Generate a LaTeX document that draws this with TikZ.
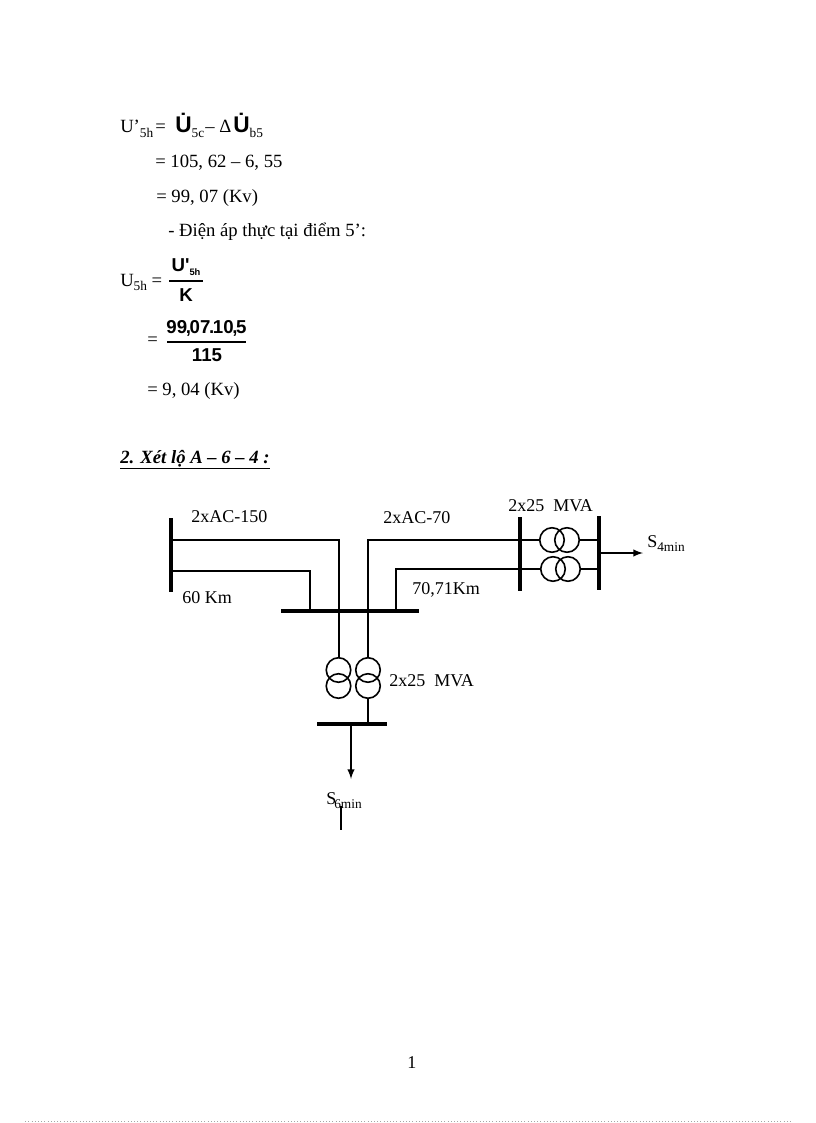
\documentclass[tikz,border=0pt]{standalone}
\usepackage{fontspec}
\setmainfont{Liberation Serif}
\setsansfont{Liberation Sans}
\newcommand{\lowsub}[1]{\raisebox{-3.4pt}{\normalfont\fontsize{10}{10}\selectfont #1}}
\tikzset{
  txt/.style={anchor=base west,inner sep=0pt,font=\fontsize{14}{16}\selectfont},
  lbl/.style={anchor=base west,inner sep=0pt,font=\fontsize{13.5}{15}\selectfont},
  eqn/.style={anchor=center,inner sep=0pt,font=\sffamily\bfseries\fontsize{14}{16}\selectfont},
  bigu/.style={anchor=base west,inner sep=0pt,font=\sffamily\bfseries\fontsize{17}{17}\selectfont},
  pt/.style={inner sep=0pt,minimum size=0pt},
  bus/.style={line width=3.2pt},
  wire/.style={line width=1.5pt},
  coil/.style={draw,circle,line width=1.2pt,minimum size=24.5*0.75pt,inner sep=0pt}
}
\begin{document}
\begin{tikzpicture}[x=0.75pt,y=-0.75pt,>=latex]
  \useasboundingbox (0,0) rectangle (816,1123);

  \node[txt] at (120,133) (ua) {U’\lowsub{5h}};
  \node[txt] at (155,133) (eqa) {=};
  \node[bigu] at (175,133) (ub) {\.U\lowsub{5c}};
  \node[txt] at (205,133) (mns) {– Δ};
  \node[bigu] at (233,133) (uc) {\.U\lowsub{b5}};

  \node[txt] at (155,168) (lb) {= 105, 62 – 6, 55};
  \node[txt] at (156,203) (lc) {= 99, 07 (Kv)};
  \node[txt] at (168,237) (ld) {- Điện áp thực tại điểm 5’:};

  \node[txt] at (120,286) (ue) {U\lowsub{5h} =};
  \node[eqn] at (186,267) (fa) {U\textquotesingle\raisebox{-0.2em}{\fontsize{7}{7}\selectfont 5h}};
  \node[eqn] at (186,295) (fb) {K};
  \draw[line width=0.9pt] (169,281) -- (203,281);

  \node[txt] at (147,345) (eqb) {=};
  \node[eqn] at (206.5,328) (fc) {99\kern-1pt,\kern-1pt07\kern-1pt.\kern-1pt10\kern-1pt,\kern-1pt5};
  \node[eqn] at (207,355) (fd) {115};
  \draw[line width=0.9pt] (167,342) -- (246,342);
  \node[txt] at (147,395) (le) {= 9, 04 (Kv)};

  \node[txt,font=\bfseries\itshape\fontsize{14}{16}\selectfont] at (120,463) (head) {\underline{2. Xét lộ A – 6 – 4 :}};

  % busbars
  \node[pt] at (171,518) (busat) {};
  \node[pt] at (171,592) (busab) {};
  \node[pt] at (281,611) (busbl) {};
  \node[pt] at (419,611) (busbr) {};
  \node[pt] at (520,517) (busct) {};
  \node[pt] at (520,591) (buscb) {};
  \node[pt] at (599,516) (busdt) {};
  \node[pt] at (599,590) (busdb) {};
  \node[pt] at (317,724) (busel) {};
  \node[pt] at (387,724) (buser) {};
  \draw[bus] (busat) -- (busab);
  \draw[bus] (busbl) -- (busbr);
  \draw[bus] (busct) -- (buscb);
  \draw[bus] (busdt) -- (busdb);
  \draw[bus] (busel) -- (buser);

  % transformers
  \node[coil] at (552,540) (ta) {};
  \node[coil] at (567,540) (tb) {};
  \node[coil] at (553,569) (tc) {};
  \node[coil] at (568,569) (td) {};
  \node[coil] at (338.5,670) (te) {};
  \node[coil] at (338.5,686) (tf) {};
  \node[coil] at (368,670) (tg) {};
  \node[coil] at (368,686) (th) {};

  % lines
  \node[pt] at (171,540) (na) {};
  \node[pt] at (338.5,540) (nb) {};
  \node[pt] at (171,571) (nc) {};
  \node[pt] at (310,571) (nd) {};
  \node[pt] at (310,611) (ne) {};
  \node[pt] at (368,540) (nf) {};
  \node[pt] at (520,540) (ng) {};
  \node[pt] at (396,611) (nh) {};
  \node[pt] at (396,569) (ni) {};
  \node[pt] at (520,569) (nj) {};
  \node[pt] at (599,540) (nk) {};
  \node[pt] at (599,569) (nl) {};
  \node[pt] at (599,553) (nm) {};
  \node[pt] at (643,553) (nn) {};
  \node[pt] at (368,724) (no) {};
  \node[pt] at (351,724) (np) {};
  \node[pt] at (351,779) (nq) {};
  \node[pt] at (341,806) (nr) {};
  \node[pt] at (341,830) (ns) {};

  \draw[wire] (na.center) -- (nb.center) -- (te.north);
  \draw[wire] (nc.center) -- (nd.center) -- (ne.center);
  \draw[wire] (tg.north) -- (nf.center) -- (ng.center);
  \draw[wire] (nh.center) -- (ni.center) -- (nj.center);
  \draw[wire] (ng.center) -- (ta.west);
  \draw[wire] (tb.east) -- (nk.center);
  \draw[wire] (nj.center) -- (tc.west);
  \draw[wire] (td.east) -- (nl.center);
  \draw[wire] (th.south) -- (no.center);
  \draw[wire,->] (nm.center) -- (nn.center);
  \draw[wire,->] (np.center) -- (nq.center);
  \draw[line width=1.2pt] (nr.center) -- (ns.center);

  \node[lbl] at (191,522) (la) {2xAC-150};
  \node[lbl] at (383,523) (lf) {2xAC-70};
  \node[lbl] at (182,603) (lg) {60 Km};
  \node[lbl] at (412,594) (lh) {70,71Km};
  \node[lbl] at (508,511) (li) {2x25\ \ MVA};
  \node[lbl] at (389,686) (lj) {2x25\ \ MVA};
  \node[lbl] at (647,547) (lk) {S\lowsub{4min}};
  \node[lbl] at (326,804) (ll) {S\kern-1.5pt\lowsub{6min}};

  \node[lbl] at (407,1068) (page) {1};

  \node[pt] at (25,1121.5) (dota) {};
  \node[pt] at (792,1121.5) (dotb) {};
  \draw[black!35,line width=0.4pt,dotted] (dota) -- (dotb);
\end{tikzpicture}
\end{document}
